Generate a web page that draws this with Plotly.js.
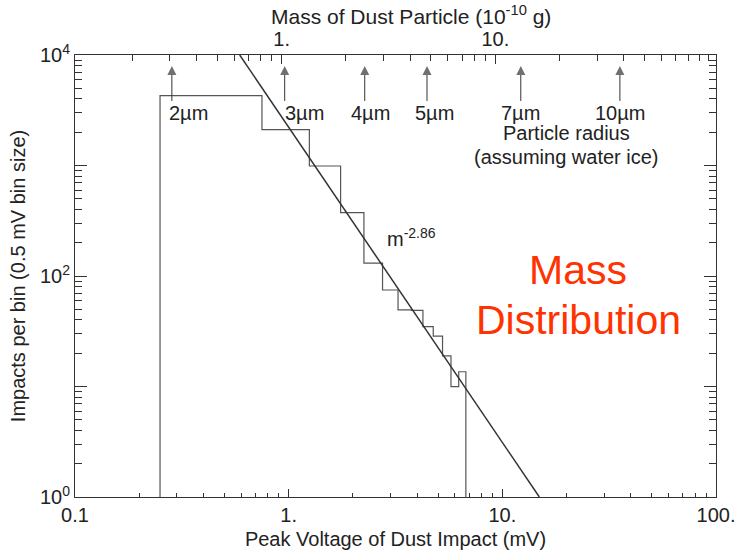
<!DOCTYPE html>
<html><head><meta charset="utf-8">
<script src="https://cdn.plot.ly/plotly-3.0.1.min.js"></script>
<style>html,body{margin:0;padding:0;background:#fff}</style>
</head><body><div id="chart" style="width:738px;height:556px"></div>
<script>
// ---- data ----
const binEdges = [0.25,0.75,1.25,1.75,2.25,2.75,3.25,3.75,4.25,4.75,5.25,5.75,6.25,6.75]; // mV
const binCounts = [4285,2109,990,374,131,74.7,49.3,48.8,34.8,28.6,18.9,9.96,13.6];      // impacts per bin
const fitVoltage = [0.59, 14.9];
const fitCounts = [10000, 1];
const fitLabel = 'm<sup>-2.86</sup>';
const radiusLabels = ['2µm','3µm','4µm','5µm','7µm','10µm'];
const radiusVoltage = [0.284,0.958,2.27,4.44,12.2,35.5];
const radiusLabelVoltage = [0.341,1.19,2.41,4.81,12.1,35.6];
const xTickVals = [0.1,1,10,100];
const xTickText = ['0.1','1.','10.','100.'];
const yTickVals = [1,100,10000];
const yTickText = ['10<sup>0</sup>','10<sup>2</sup>','10<sup>4</sup>'];
const yUnlabeledDecades = [10,1000];
const massTickVals = [1,10];
const massTickText = ['1.','10.'];
const massPerVoltage = 1/0.927; // 1e-10 g per mV (top axis offset)
const arrowTailCount = 3838, arrowTipCount = 7950; // vertical placement of radius arrows

// ---- build ----
const FONT = 'Liberation Sans, Arial, Helvetica, sans-serif';
const TXT = '#222';
const AX = '#333';

function minorVals(lo, hi, withUpper){
  const out=[];
  for(let d=lo; d<hi; d++){ for(let k=2;k<=9;k++){ out.push(k*Math.pow(10,d)); } }
  if(withUpper) out.push(Math.pow(10,hi));
  return out;
}

const histX=[binEdges[0]], histY=[1];
for(let i=0;i<binCounts.length;i++){ histX.push(binEdges[i]); histY.push(binCounts[i]); }
histX.push(binEdges[binEdges.length-1]); histY.push(binCounts[binCounts.length-1]);
histX.push(binEdges[binEdges.length-1]); histY.push(1);

const arrX=[], arrY=[], arrSize=[];
radiusVoltage.forEach(v=>{
  arrX.push(v, v, null); arrY.push(arrowTailCount, arrowTipCount, null); arrSize.push(0, 9, 0);
});

const traces = [
  {x:histX, y:histY, mode:'lines', line:{shape:'hv', color:'#555', width:1.2}, hoverinfo:'skip', showlegend:false},
  {x:fitVoltage, y:fitCounts, mode:'lines', line:{color:'#333', width:1.5}, hoverinfo:'skip', showlegend:false},
  {x:arrX, y:arrY, mode:'lines+markers', line:{color:'#333', width:1},
    marker:{symbol:'arrow-up', size:arrSize, color:'#333', line:{width:0}},
    connectgaps:false, hoverinfo:'skip', showlegend:false},
  {x:[], y:[], xaxis:'x2', yaxis:'y', mode:'markers', showlegend:false, hoverinfo:'skip'},
  {x:[], y:[], xaxis:'x', yaxis:'y2', mode:'markers', showlegend:false, hoverinfo:'skip'}
];

const annotations = [];
radiusLabels.forEach((t,i)=>{
  annotations.push({x:Math.log10(radiusLabelVoltage[i]), y:0.869, xref:'x', yref:'paper', text:t, showarrow:false,
    xanchor:'center', yanchor:'middle', font:{family:FONT, size:20, color:TXT}});
});
annotations.push({x:0.766, y:0.8235, xref:'paper', yref:'paper', text:'Particle radius', showarrow:false,
  xanchor:'center', yanchor:'middle', font:{family:FONT, size:20, color:TXT}});
annotations.push({x:0.766, y:0.769, xref:'paper', yref:'paper', text:'(assuming water ice)', showarrow:false,
  xanchor:'center', yanchor:'middle', font:{family:FONT, size:20, color:TXT}});
annotations.push({x:0.4836, y:0.588, xref:'paper', yref:'paper', text:fitLabel, showarrow:false,
  xanchor:'left', yanchor:'middle', font:{family:FONT, size:20, color:TXT}});
annotations.push({x:0.785, y:0.5136, xref:'paper', yref:'paper', text:'Mass', showarrow:false,
  xanchor:'center', yanchor:'middle', font:{family:FONT, size:41, color:'#ff3300'}});
annotations.push({x:0.785, y:0.400, xref:'paper', yref:'paper', text:'Distribution', showarrow:false,
  xanchor:'center', yanchor:'middle', font:{family:FONT, size:41, color:'#ff3300'}});
annotations.push({x:0.524, y:1.091, xref:'paper', yref:'paper',
  text:'Mass of Dust Particle (10<sup>-10</sup> g)', showarrow:false,
  xanchor:'center', yanchor:'middle', font:{family:FONT, size:21, color:TXT}});

const layout = {
  width:738, height:556,
  margin:{l:75, r:22, t:55, b:59},
  paper_bgcolor:'#fff', plot_bgcolor:'#fff',
  font:{family:FONT, size:20, color:TXT},
  showlegend:false,
  xaxis:{type:'log', range:[-1,2], showgrid:false, zeroline:false,
    showline:true, linecolor:AX, linewidth:1, mirror:false,
    ticks:'inside', ticklen:8, tickcolor:AX, tickwidth:1,
    tickmode:'array', tickvals:xTickVals, ticktext:xTickText,
    tickfont:{family:FONT, size:20, color:TXT},
    minor:{tickmode:'array', tickvals:minorVals(-1,2,false), ticks:'inside', ticklen:4, tickcolor:AX, showgrid:false},
    title:{text:'Peak Voltage of Dust Impact (mV)', font:{family:FONT, size:20, color:TXT}, standoff:6}},
  xaxis2:{type:'log', overlaying:'x', side:'top', anchor:'y',
    range:[Math.log10(0.1*massPerVoltage), Math.log10(100*massPerVoltage)],
    showgrid:false, zeroline:false, showline:true, linecolor:AX, linewidth:1,
    ticks:'inside', ticklen:9, tickcolor:AX, tickwidth:1,
    tickmode:'array', tickvals:massTickVals, ticktext:massTickText,
    tickfont:{family:FONT, size:20, color:TXT},
    minor:{tickmode:'array', tickvals:minorVals(-1,2,true), ticks:'inside', ticklen:6, tickcolor:AX, showgrid:false}},
  yaxis:{type:'log', range:[0,4], showgrid:false, zeroline:false,
    showline:true, linecolor:AX, linewidth:1, mirror:'ticks',
    ticks:'inside', ticklen:12, tickcolor:AX, tickwidth:1,
    tickmode:'array', tickvals:yTickVals, ticktext:yTickText,
    tickfont:{family:FONT, size:20, color:TXT},
    minor:{tickmode:'array', tickvals:minorVals(0,4,false).filter(v=>yUnlabeledDecades.indexOf(v)<0), ticks:'inside', ticklen:7, tickcolor:AX, showgrid:false},
    title:{text:'Impacts per bin (0.5 mV bin size)', font:{family:FONT, size:20, color:TXT}, standoff:8}},
  yaxis2:{type:'log', range:[0,4], overlaying:'y', side:'left', anchor:'x',
    showgrid:false, zeroline:false, showline:false, mirror:'ticks', showticklabels:false,
    ticks:'inside', ticklen:12, tickcolor:AX, tickwidth:1,
    tickmode:'array', tickvals:yUnlabeledDecades},
  annotations:annotations
};

Plotly.newPlot('chart', traces, layout, {staticPlot:true, displayModeBar:false});
</script></body></html>
